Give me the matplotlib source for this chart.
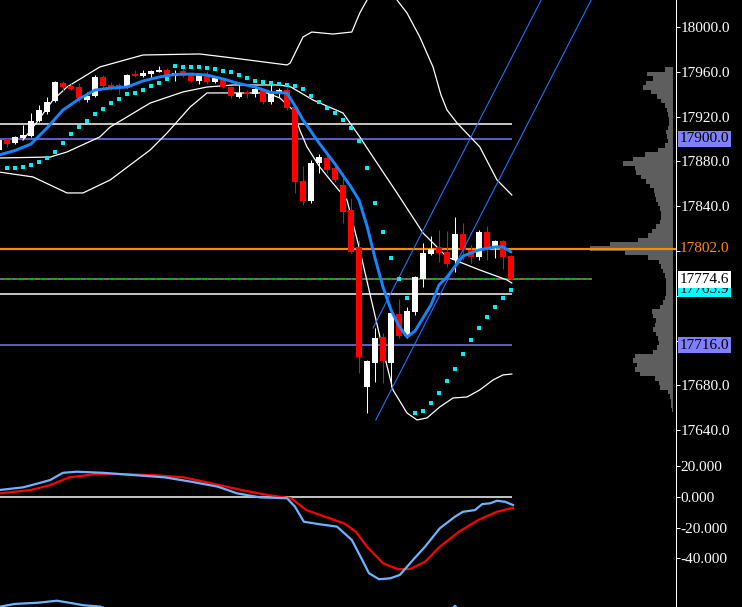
import matplotlib
matplotlib.use('Agg')
import matplotlib.pyplot as plt
import numpy as np

plt.rcParams['font.family'] = ['Liberation Serif', 'DejaVu Serif']

# ---------------- data ----------------
opens = [17890.2, 17900.0, 17896.4, 17901.0, 17902.7, 17916.1, 17924.1, 17933.9, 17950.0, 17947.3,
         17946.4, 17934.8, 17938.4, 17955.4, 17948.2, 17948.2, 17946.4, 17958.0, 17956.2, 17958.0,
         17959.8, 17961.6, 17956.2, 17960.7, 17957.1, 17951.8, 17958.0, 17950.9, 17952.7, 17946.4,
         17937.5, 17942.0, 17940.2, 17943.7, 17933.0, 17941.1, 17943.7, 17928.6, 17862.5, 17844.6,
         17878.5, 17883.0, 17874.1, 17858.9, 17836.6, 17803.6, 17678.5, 17700.0, 17723.2, 17700.0,
         17743.7, 17724.1, 17745.5, 17775.0, 17797.3, 17803.6, 17799.1, 17792.0, 17815.2, 17800.9,
         17794.6, 17816.9, 17804.4, 17808.9, 17795.5]
highs = [17902.7, 17901.0, 17902.7, 17912.5, 17923.2, 17930.4, 17937.5, 17951.8, 17951.8, 17950.0,
         17950.0, 17942.0, 17957.1, 17957.1, 17950.9, 17950.0, 17958.0, 17961.6, 17961.6, 17961.6,
         17965.2, 17963.4, 17961.6, 17963.4, 17958.0, 17958.9, 17960.7, 17955.4, 17954.5, 17947.3,
         17948.2, 17943.7, 17947.3, 17944.6, 17948.2, 17945.5, 17945.5, 17930.4, 17875.9, 17881.3,
         17886.6, 17888.4, 17878.5, 17869.6, 17847.3, 17809.8, 17702.6, 17731.3, 17726.8, 17745.6,
         17757.1, 17750.0, 17777.7, 17807.1, 17813.4, 17818.7, 17817.8, 17830.3, 17825.0, 17805.3,
         17818.7, 17822.3, 17809.8, 17809.8, 17796.4]
lows = [17888.4, 17893.0, 17895.5, 17900.0, 17901.8, 17915.2, 17922.3, 17933.0, 17942.9, 17943.7,
        17933.0, 17933.0, 17937.5, 17945.5, 17943.7, 17940.2, 17945.5, 17955.4, 17955.4, 17954.5,
        17959.8, 17954.5, 17951.8, 17955.4, 17950.9, 17949.1, 17949.1, 17950.0, 17945.5, 17936.6,
        17936.6, 17936.6, 17937.5, 17931.2, 17931.2, 17937.5, 17925.9, 17851.8, 17841.1, 17842.9,
        17869.6, 17869.6, 17861.6, 17825.0, 17798.1, 17691.1, 17655.3, 17683.1, 17682.2, 17678.5,
        17722.3, 17722.3, 17742.8, 17767.8, 17796.4, 17790.2, 17785.7, 17781.2, 17792.0, 17789.3,
        17792.0, 17792.0, 17793.7, 17783.9, 17773.7]
closes = [17899.1, 17895.5, 17901.8, 17903.6, 17916.1, 17925.9, 17933.0, 17950.9, 17946.4, 17944.6,
          17936.6, 17938.4, 17955.4, 17947.3, 17945.5, 17945.5, 17957.1, 17956.2, 17958.9, 17960.7,
          17961.6, 17957.1, 17958.9, 17956.2, 17951.8, 17957.1, 17950.9, 17954.5, 17946.4, 17938.4,
          17941.1, 17940.2, 17944.6, 17933.0, 17940.2, 17943.7, 17927.7, 17861.6, 17844.6, 17878.5,
          17884.0, 17872.3, 17863.4, 17834.8, 17799.1, 17705.3, 17701.8, 17722.3, 17701.8, 17744.6,
          17724.1, 17746.4, 17776.8, 17798.2, 17801.8, 17798.2, 17788.4, 17815.2, 17800.9, 17794.6,
          17816.9, 17800.9, 17808.9, 17794.6, 17774.6]

sar = [np.nan, 17874.1, 17874.1, 17875.0, 17876.8, 17879.5, 17883.0, 17888.4, 17896.4, 17904.5,
       17910.7, 17916.1, 17922.3, 17926.8, 17932.1, 17935.7, 17940.2, 17941.1, 17943.7, 17947.3,
       17950.0, 17953.6, 17965.2, 17964.3, 17964.3, 17964.3, 17963.4, 17962.5, 17960.7, 17959.8,
       17957.1, 17954.5, 17951.8, 17950.9, 17950.0, 17949.1, 17948.2, 17947.3, 17944.6, 17938.4,
       17933.0, 17927.7, 17923.2, 17917.0, 17909.8, 17898.2, 17874.1, 17842.9, 17817.0, 17793.7,
       17775.0, 17758.0, 17655.3, 17657.1, 17664.3, 17673.2, 17683.9, 17694.6, 17708.0, 17720.5,
       17731.2, 17741.1, 17750.0, 17758.0, 17765.2]

ma_idx = [0, 2, 4, 6, 8, 10, 12, 14, 16, 18, 20, 22, 24, 26, 28, 30, 32, 34, 36, 37, 38, 40, 42, 44,
          45, 46, 47, 48, 49, 50, 51, 52, 53, 54, 55, 56, 58, 60, 62, 63, 64]
ma_val = [17885.7, 17889.7, 17895.5, 17909.8, 17925.9, 17935.7, 17943.7, 17945.5, 17946.4, 17951.8,
          17955.3, 17957.6, 17958.0, 17957.1, 17953.6, 17949.5, 17946.4, 17941.5, 17941.1, 17929.5,
          17917.0, 17896.4, 17877.7, 17857.1, 17845.5, 17822.3, 17793.7, 17767.8, 17747.3, 17733.0,
          17723.2, 17728.5, 17740.2, 17751.8, 17769.6, 17776.8, 17795.5, 17800.9, 17803.6, 17803.6,
          17799.1]

ub_idx = [3.0, 4.75, 6.75, 8.5, 12.6, 18.0, 25.1, 29.25, 36.0, 36.4, 38.0, 39.1, 41.75, 44.1, 45.1,
          46.0, 47.0, 48.0, 49.0, 49.75, 51.0, 52.6, 54.25, 55.25, 56.0, 57.25, 60.1, 62.25, 64.1]
ub_val = [17899.1, 17915.2, 17934.8, 17946.4, 17964.3, 17975.0, 17975.9, 17972.3, 17966.1, 17967.8,
          17991.1, 17995.5, 17993.7, 17995.5, 18012.5, 18024.1, 18042.0, 18043.7, 18034.8, 18024.1,
          18012.5, 17991.1, 17964.3, 17939.3, 17925.9, 17914.3, 17892.9, 17863.4, 17850.0]

mb_idx = [0.0, 6.4, 8.5, 12.6, 13.9, 18.9, 23.0, 26.0, 29.25, 35.1, 36.5, 39.25, 43.0, 45.1, 46.75,
          49.75, 53.0, 56.0, 60.1, 63.5, 64.1]
mb_val = [17883.0, 17883.9, 17888.4, 17901.8, 17910.7, 17932.1, 17942.0, 17946.4, 17948.2, 17948.2,
          17946.4, 17934.8, 17923.2, 17901.8, 17883.9, 17851.8, 17816.1, 17794.6, 17783.0, 17774.1,
          17771.4]

lb_idx = [0.0, 4.25, 8.5, 10.5, 13.9, 18.9, 21.0, 23.9, 26.0, 29.25, 33.5, 35.1, 36.75, 37.6, 38.5,
          40.1, 41.4, 43.5, 45.1, 46.4, 48.0, 49.25, 51.0, 52.25, 53.5, 55.1, 56.75, 58.5, 60.1,
          61.75, 63.0, 64.1]
lb_val = [17870.5, 17866.1, 17851.8, 17851.8, 17863.4, 17890.2, 17905.3, 17928.6, 17941.1, 17941.1,
          17941.1, 17936.6, 17925.9, 17908.0, 17892.9, 17875.0, 17863.4, 17845.5, 17800.9, 17760.7,
          17711.6, 17675.9, 17655.3, 17649.1, 17650.9, 17660.7, 17668.7, 17669.6, 17675.9, 17684.8,
          17689.3, 17690.1]

# trend channel (two parallel rays)
chan1_idx = [46.75, 73.0]
chan1_val = [17731.2, 18096.9]
chan2_idx = [47.1, 76.0]
chan2_val = [17649.1, 18051.7]

# horizontal levels
lvl_white1 = 17913.3
lvl_blue1 = 17900.0
lvl_orange = 17802.0
lvl_price = 17774.6
lvl_white2 = 17761.6
lvl_blue2 = 17716.0
sar_next = 17766.0

# volume profile (bins of 4 points)
prof_levels = np.arange(17962, 17657, -4)
prof_vol = [8, 26, 20, 27, 30, 22, 16, 12, 8, 6, 5, 4, 4, 5, 7, 6, 5, 8, 15, 28,
            40, 50, 38, 37, 32, 27, 23, 19, 18, 17, 15, 13, 12, 12, 13, 17, 21, 25, 35, 63,
            83, 48, 25, 14, 12, 10, 8, 7, 7, 7, 7, 8, 10, 13, 21, 20, 17, 18, 20, 17,
            15, 14, 16, 20, 38, 40, 36, 38, 33, 18, 14, 13, 5, 3, 2, 2, 1]

# oscillator panel
osc_main_idx = [0.1, 3.0, 4.9, 6.4, 8.0, 9.75, 13.0, 16.9, 20.75, 24.0, 27.4, 29.75, 32.6, 36.0,
                37.0, 38.1, 39.9, 42.25, 44.1, 45.4, 46.25, 47.5, 48.9, 50.1, 51.75, 53.25, 55.1,
                57.0, 58.0, 59.5, 60.4, 61.4, 62.25, 63.25, 64.25]
osc_main = [4.6, 6.3, 8.9, 11.1, 15.8, 16.5, 15.8, 14.3, 12.8, 10.0, 6.7, 2.4, -0.2, -0.8,
            -6.3, -16.1, -17.6, -19.3, -28.0, -41.0, -49.7, -53.6, -53.0, -50.8, -41.0, -32.4, -20.4,
            -12.8, -9.6, -8.5, -4.6, -4.1, -2.4, -3.1, -5.2]
osc_sig_idx = [0.1, 4.0, 6.4, 8.75, 12.1, 14.5, 19.25, 23.1, 26.9, 30.75, 33.6, 36.5, 38.4, 40.75,
               43.1, 44.6, 46.0, 48.0, 49.9, 51.4, 53.25, 55.1, 57.5, 59.9, 62.25, 64.25]
osc_sig = [2.4, 4.6, 7.8, 12.8, 15.0, 15.0, 14.3, 12.8, 8.5, 4.1, 1.3, -0.8, -8.5, -12.8,
           -17.1, -22.6, -32.4, -43.2, -47.1, -46.9, -42.2, -32.4, -22.6, -15.0, -9.6, -7.0]
osc3_idx = [0.1, 2.0, 4.9, 7.25, 8.75, 10.6, 12.6, 14.0, 56.5, 57.0, 57.5]
osc3 = [-71.5, -69.7, -68.9, -67.6, -68.9, -70.6, -71.4, -74.0, -74.0, -70.9, -74.0]

price_ticks = [17640, 17680, 17720, 17760, 17800, 17840, 17880, 17920, 17960, 18000]
price_labels = ['17640.0', '17680.0', '', '', '', '17840.0', '17880.0', '17920.0', '17960.0', '18000.0']
osc_ticks = [-40, -20, 0, 20]
osc_labels = ['-40.000', '-20.000', '0.000', '20.000']

# ---------------- figure ----------------
W, H = 742, 607
fig = plt.figure(figsize=(W / 100, H / 100), dpi=100, facecolor='black')


def rect(x0, y0, x1, y1):
    return [x0 / W, 1 - y1 / H, (x1 - x0) / W, (y1 - y0) / H]


AX_R = 676
SPLIT = 455
XLIM = (0.125, 84.625)
YLIM = (17617.8, 18024.1)
PX = 0.72  # one pixel in points

# volume profile axes (behind)
pax = fig.add_axes(rect(0, 0, AX_R, SPLIT))
pax.set_facecolor('black')
pax.barh(prof_levels, prof_vol, height=4.0, color='#5e5e5e', linewidth=0)
pax.set_xlim(673, -3)
pax.set_ylim(*YLIM)
pax.set_xticks([]); pax.set_yticks([])
for s in pax.spines.values():
    s.set_visible(False)

# main price axes
ax = fig.add_axes(rect(0, 0, AX_R, SPLIT))
ax.set_facecolor('none')
ax.set_xlim(*XLIM)
ax.set_ylim(*YLIM)

idx = np.arange(len(opens))
o = np.array(opens); c = np.array(closes); h = np.array(highs); l = np.array(lows)
up = c >= o
colors = np.where(up, 'white', '#ff0000')

# bands
band_kw = dict(color='white', lw=0.9, zorder=2, solid_joinstyle='round')
ax.plot(ub_idx, ub_val, **band_kw)
ax.plot(mb_idx, mb_val, **band_kw)
ax.plot(lb_idx, lb_val, **band_kw)

# horizontal levels
ax.hlines(lvl_white1, XLIM[0], 64.1, color='white', lw=1.5 * PX, zorder=1)
ax.hlines(lvl_blue1, XLIM[0], 64.1, color='#7b7bff', lw=1.5 * PX, zorder=1)
ax.hlines(lvl_white2, XLIM[0], 64.1, color='white', lw=1.5 * PX, zorder=1)
ax.hlines(lvl_blue2, XLIM[0], 64.1, color='#7b7bff', lw=1.5 * PX, zorder=1)
ax.hlines(lvl_orange, XLIM[0], XLIM[1], color='#ff8a00', lw=2.2 * PX, zorder=1)
ax.hlines(lvl_price, XLIM[0], 74.1, color='#8a8a8a', lw=1.6 * PX, linestyles=(0, (3.6, 3.6)), zorder=1)
ax.hlines(lvl_price, XLIM[0], 74.1, color='#00e000', lw=1.6 * PX, linestyles=(3.6, (3.6, 3.6)), zorder=1)

# candles
ax.vlines(idx, l, h, colors=colors, lw=1.0 * PX, zorder=3)
body_lo = np.minimum(o, c)
body_h = np.maximum(np.abs(c - o), 0.9)
ax.bar(idx, body_h, bottom=body_lo, width=0.64, color=colors, linewidth=0, zorder=3)

# moving average
ax.plot(ma_idx, ma_val, color='#1487ff', lw=2.1, zorder=4, solid_capstyle='round')

# parabolic SAR
ax.plot(idx, sar, ls='none', marker='s', ms=2.2, mew=0, color='#00f0f0', zorder=5)

# channel
ax.plot(chan1_idx, chan1_val, color='#1f74ff', lw=1.1 * PX, zorder=4)
ax.plot(chan2_idx, chan2_val, color='#1f74ff', lw=1.1 * PX, zorder=4)

# axes styling
for name, s in ax.spines.items():
    s.set_visible(name == 'right')
ax.spines['right'].set_color('white')
ax.spines['right'].set_linewidth(1.0 * PX)
ax.set_xticks([])
ax.yaxis.tick_right()
ax.set_yticks(price_ticks)
ax.set_yticklabels(price_labels)
ax.tick_params(axis='y', colors='white', labelcolor='white', length=4 * PX, width=1.0 * PX,
               pad=0.6, labelsize=11, direction='out')

# right-side price labels
ytr = ax.get_yaxis_transform()
LX = 680.0 / AX_R


def tag(y, text, fg, bg=None, z=10):
    kw = dict(transform=ytr, ha='left', va='center', fontsize=11, color=fg, zorder=z,
              clip_on=False)
    if bg is not None:
        kw['bbox'] = dict(boxstyle='square,pad=0.12', fc=bg, ec='none')
    ax.text(LX, y, text, **kw)


tag(lvl_blue1, '17900.0', 'black', '#8080ff')
tag(lvl_orange, '17802.0', '#ff8a00')
tag(lvl_white2, '17761.6', 'white', z=10)
tag(sar_next, '17765.9', 'black', '#00ffff', z=11)
tag(lvl_price, '17774.6', 'black', 'white', z=12)
tag(lvl_blue2, '17716.0', 'black', '#8080ff')

# oscillator panel
ind = fig.add_axes(rect(0, SPLIT, AX_R, H))
ind.set_facecolor('none')
ind.set_xlim(*XLIM)
ind.set_ylim(-71.7, 27.4)
ind.hlines(0, XLIM[0], 64.1, color='white', lw=1.5 * PX, zorder=1)
ind.plot(osc_main_idx, osc_main, color='#6cb4ff', lw=1.6, zorder=3)
ind.plot(osc_sig_idx, osc_sig, color='#ff0000', lw=1.6, zorder=2)
ind.plot(osc3_idx, osc3, color='#6cb4ff', lw=1.6, zorder=3)
for name, s in ind.spines.items():
    s.set_visible(name == 'right')
ind.spines['right'].set_color('white')
ind.spines['right'].set_linewidth(1.0 * PX)
ind.set_xticks([])
ind.yaxis.tick_right()
ind.set_yticks(osc_ticks)
ind.set_yticklabels(osc_labels)
ind.tick_params(axis='y', colors='white', labelcolor='white', length=4 * PX, width=1.0 * PX,
                pad=0.6, labelsize=11, direction='out')

fig.savefig('out.png', dpi=100, facecolor='black')
